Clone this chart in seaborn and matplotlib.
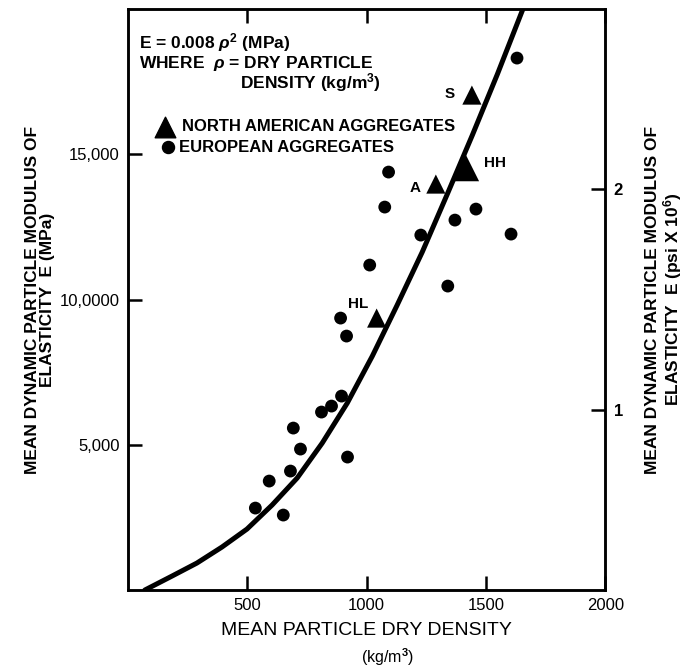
import matplotlib
matplotlib.use("Agg")
import matplotlib.pyplot as plt
import seaborn as sns
import pandas as pd

# European aggregates (circles): density kg/m3, modulus MPa
eu_rho = [1630, 1092, 1076, 1458, 1370, 1227, 1605, 1013, 1340, 891, 916,
          895, 853, 811, 693, 723, 920, 681, 592, 534, 651]
eu_E = [18312, 14388, 13183, 13114, 12735, 12219, 12253, 11187, 10464, 9362, 8743,
        6677, 6333, 6127, 5576, 4853, 4578, 4096, 3752, 2822, 2582]

# North American aggregates (triangles)
na_name = ["S", "HH", "A", "HL"]
na_rho = [1441, 1416, 1290, 1042]
na_E = [17038, 14525, 13975, 9362]

# fitted curve
fit_rho = [71, 185, 289, 394, 499, 604, 709, 814, 919, 1024, 1128, 1233,
           1338, 1443, 1548, 1653, 1661]
fit_E = [0, 482, 929, 1480, 2100, 2926, 3855, 5059, 6437, 8055, 9810, 11634,
         13630, 15661, 17761, 19964, 20170]

x_ticks = [500, 1000, 1500, 2000]
y_ticks = [5000, 10000, 15000]
y_ticklabels = ["5,000", "10,0000", "15,000"]
psi_ticks = [6200, 13800]
psi_labels = ["1", "2"]

eu = pd.DataFrame({"rho": eu_rho, "E": eu_E})
na = pd.DataFrame({"rho": na_rho, "E": na_E, "name": na_name})
fit = pd.DataFrame({"rho": fit_rho, "E": fit_E})

sns.set_style("ticks")
plt.rcParams["font.family"] = ["Liberation Sans", "DejaVu Sans"]
plt.rcParams["text.color"] = "black"
plt.rcParams["axes.labelcolor"] = "black"
plt.rcParams["xtick.color"] = "black"
plt.rcParams["ytick.color"] = "black"
plt.rcParams["mathtext.fontset"] = "custom"
plt.rcParams["mathtext.it"] = "Liberation Sans:italic:bold"
plt.rcParams["mathtext.rm"] = "Liberation Sans:bold"

fig = plt.figure(figsize=(6.95, 6.69), dpi=100)
ax = fig.add_axes([0.184, 0.118, 0.687, 0.8685])

sns.lineplot(data=fit, x="rho", y="E", sort=False, color="black", lw=3.6, ax=ax)
sns.scatterplot(data=eu, x="rho", y="E", color="black", marker="o", s=85,
                edgecolor="none", ax=ax)
big = na["name"] == "HH"
sns.scatterplot(data=na[~big], x="rho", y="E", color="black", marker="^", s=190,
                edgecolor="none", ax=ax)
sns.scatterplot(data=na[big], x="rho", y="E", color="black", marker="^", s=360,
                edgecolor="none", ax=ax)

# point labels
offs = {"S": (-12, 1), "HH": (13, 4), "A": (-11, -3), "HL": (-6, 10)}
has = {"S": "right", "HH": "left", "A": "right", "HL": "right"}
for _, r in na.iterrows():
    ax.annotate(r["name"], (r["rho"], r["E"]), xytext=offs[r["name"]],
                textcoords="offset points", ha=has[r["name"]], va="center",
                fontsize=11, fontweight="bold")

ax.set_xlim(0, 2000)
ax.set_ylim(0, 20000)
ax.set_xticks(x_ticks)
ax.set_xticklabels([str(t) for t in x_ticks], fontsize=12)
ax.set_yticks(y_ticks)
ax.set_yticklabels(y_ticklabels, fontsize=12)
ax.tick_params(direction="in", length=10, width=1.8, top=True, pad=6)

ax.set_xlabel("MEAN PARTICLE DRY DENSITY", fontsize=14, labelpad=6)
ax.set_ylabel("MEAN DYNAMIC PARTICLE MODULUS OF\nELASTICITY  E (MPa)",
              fontsize=12.5, fontweight="bold", linespacing=1.05)
ax.yaxis.set_label_coords(-0.152, 0.5)
fig.text(0.557, 0.002, "(kg/m$^3$)", fontsize=11.5, ha="center", va="bottom")

for sp in ax.spines.values():
    sp.set_linewidth(1.8)
    sp.set_color("black")

ax2 = ax.twinx()
ax2.set_ylim(ax.get_ylim())
ax2.set_yticks(psi_ticks)
ax2.set_yticklabels(psi_labels, fontsize=12, fontweight="bold")
ax2.tick_params(direction="in", length=10, width=1.8, pad=6)
ax2.set_ylabel("MEAN DYNAMIC PARTICLE MODULUS OF\nELASTICITY  E (psi X 10$^6$)",
               fontsize=12.5, fontweight="bold", labelpad=16, linespacing=1.05)
for sp in ax2.spines.values():
    sp.set_linewidth(1.8)
    sp.set_color("black")

# equation text
ax.text(0.024, 0.943, "E = 0.008 $\\it{\\rho}^2$ (MPa)", transform=ax.transAxes,
        fontsize=12.5, fontweight="bold", va="center")
ax.text(0.024, 0.907, "WHERE  $\\it{\\rho}$ = DRY PARTICLE", transform=ax.transAxes,
        fontsize=12.5, fontweight="bold", va="center")
ax.text(0.235, 0.874, "DENSITY (kg/m$^3$)", transform=ax.transAxes,
        fontsize=12.5, fontweight="bold", va="center")

# legend drawn as markers + text
ax.scatter([0.078], [0.797], marker="^", s=220, color="black",
           transform=ax.transAxes)
ax.text(0.113, 0.797, "NORTH AMERICAN AGGREGATES", transform=ax.transAxes,
        fontsize=12, fontweight="bold", va="center")
ax.scatter([0.084], [0.762], marker="o", s=75, color="black",
           transform=ax.transAxes)
ax.text(0.107, 0.762, "EUROPEAN AGGREGATES", transform=ax.transAxes,
        fontsize=12, fontweight="bold", va="center")

fig.savefig("out.png", dpi=100)
